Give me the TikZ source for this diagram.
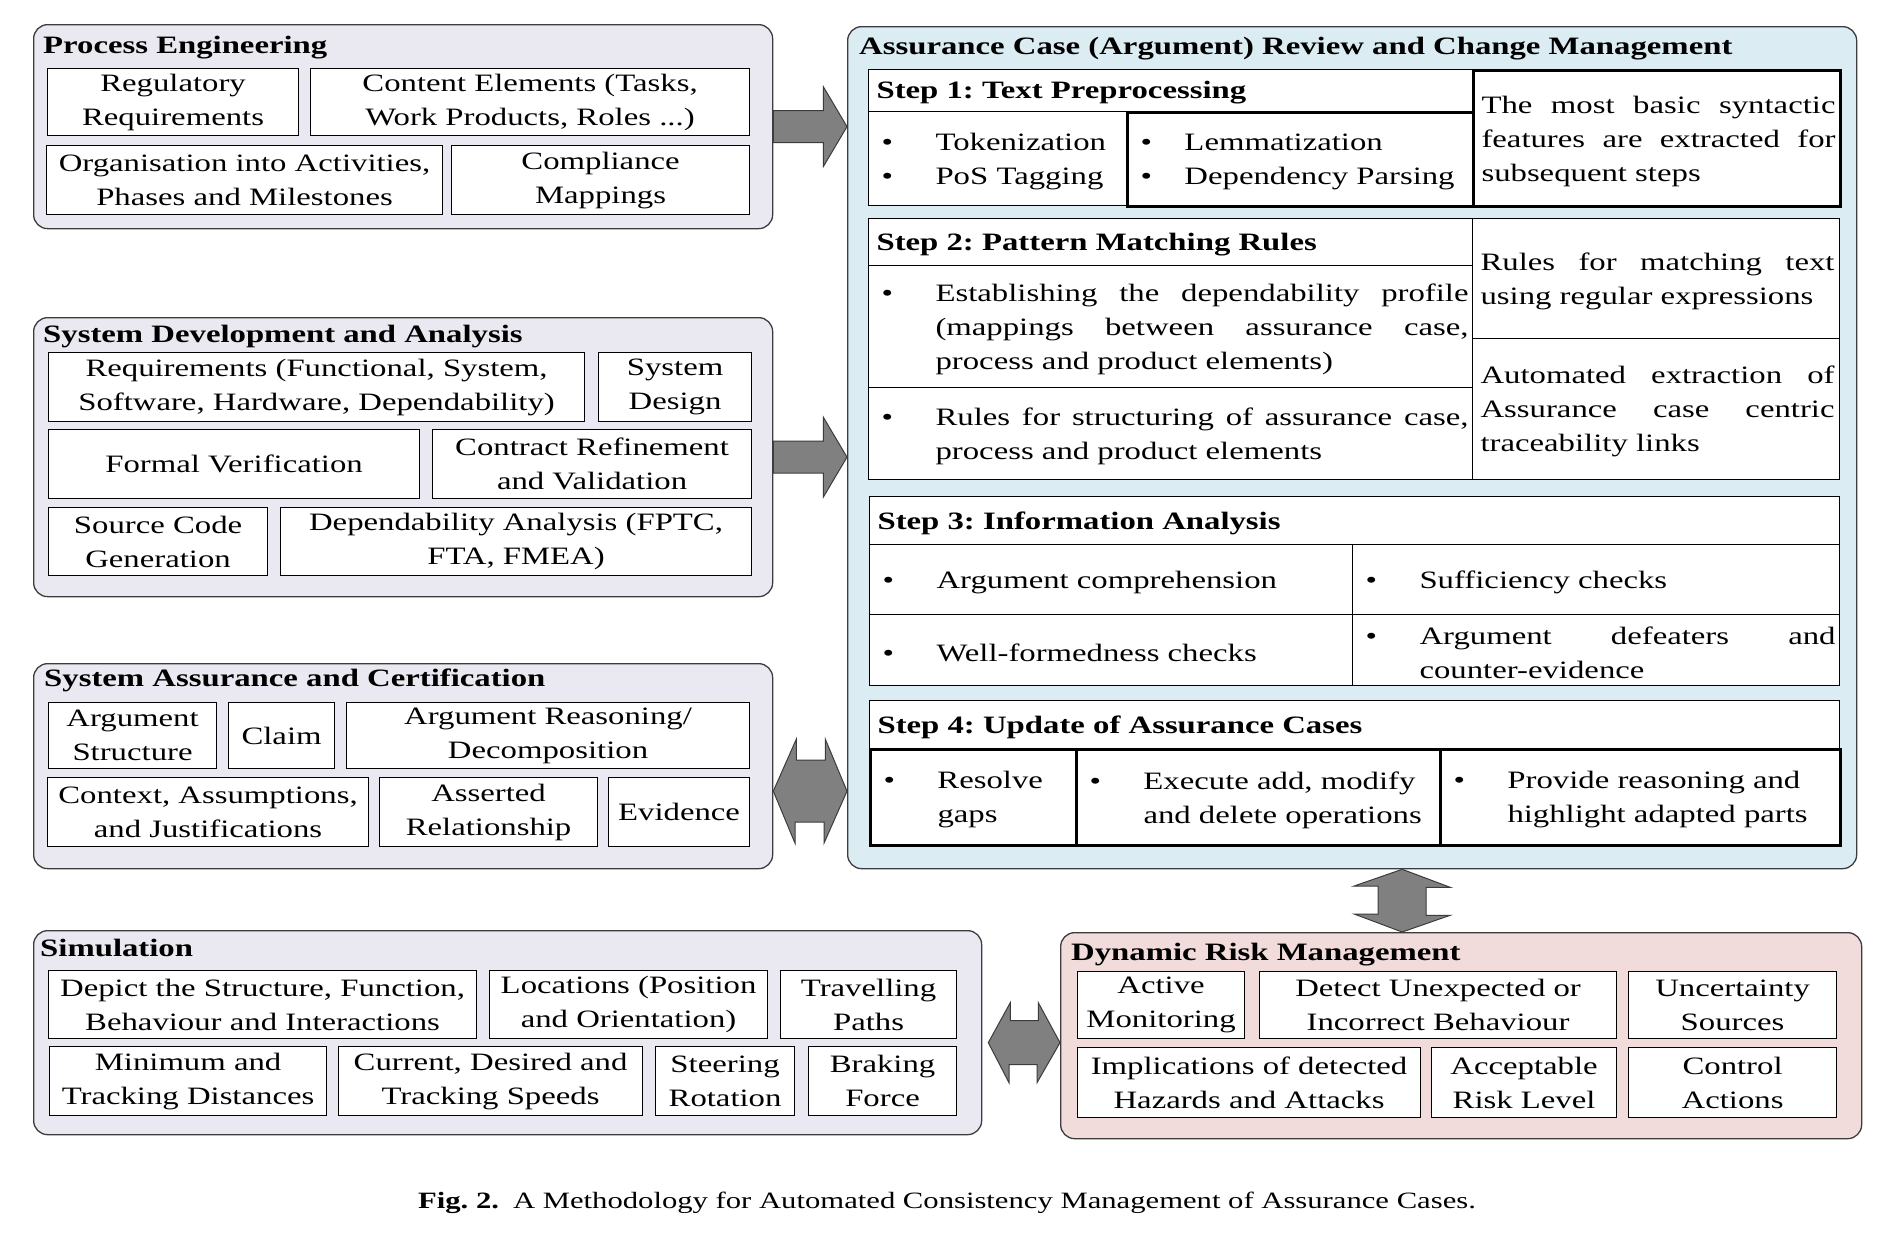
\documentclass[tikz,border=0pt]{standalone}
\usepackage{fontspec}
\setmainfont{Liberation Serif}[FakeStretch=1.31]
\usetikzlibrary{calc}
\definecolor{lav}{RGB}{234,232,240}
\definecolor{sky}{RGB}{219,236,242}
\definecolor{rose}{RGB}{242,219,219}
\definecolor{arrgray}{RGB}{128,128,128}
\definecolor{edge}{RGB}{60,60,60}
\newcommand{\bodyfont}{\fontsize{25}{34}\selectfont}
\newcommand{\bul}[2][54pt]{\leftskip=13pt\rightskip=4pt\hangindent=#1\hangafter=1%
  \noindent\hbox to #1{\textbullet\hfil}#2\par}
\newcommand{\rbul}[2][54pt]{\leftskip=13pt\rightskip=0pt plus 1fil\hangindent=#1\hangafter=1%
  \noindent\hbox to #1{\textbullet\hfil}#2\par}
\newcommand{\txt}[1]{\leftskip=8pt\rightskip=5pt\noindent#1\par}
\tolerance=10000
\hbadness=10000
\hyphenpenalty=10000
\exhyphenpenalty=10000
\frenchspacing
\tikzset{
  grp/.style={draw=edge,line width=1.3pt,rounded corners=14pt,anchor=north west,inner sep=0pt},
  ttl/.style={anchor=base west,inner sep=0pt,font=\bodyfont\bfseries},
  cell/.style 2 args={draw=black,fill=white,line width=1.1pt,anchor=north west,inner sep=0pt,
    minimum width=#1pt,minimum height=#2pt,align=center,font=\bodyfont},
  jcell/.style 2 args={draw=black,fill=white,line width=1.1pt,anchor=north west,inner sep=0pt,
    minimum width=#1pt,minimum height=#2pt,font=\bodyfont,
    execute at begin node={\begin{minipage}{#1pt}\vspace*{5pt}},execute at end node={\end{minipage}}},
  hcell/.style 2 args={jcell={#1}{#2},font=\bodyfont\bfseries},
  heavy/.style={line width=3pt},
  blk/.style={fill=arrgray,draw=edge,line width=1pt},
  capt/.style={inner sep=0pt,font=\fontsize{23.4}{28}\selectfont},
}
\begin{document}
\begin{tikzpicture}[x=1pt,y=-1pt]
\path[use as bounding box,fill=white] (0,0) rectangle (1898,1234);
% groups
\node[grp,fill=lav,minimum width=739,minimum height=204] (pe) at (33,24) {};
\node[grp,fill=lav,minimum width=739,minimum height=279] (sd) at (33,317) {};
\node[grp,fill=lav,minimum width=739,minimum height=205] (sa) at (33,663) {};
\node[grp,fill=lav,minimum width=948,minimum height=204] (sim) at (33,930) {};
\node[grp,fill=sky,minimum width=1009,minimum height=842] (ac) at (847,26) {};
\node[grp,fill=rose,minimum width=801,minimum height=206] (drm) at (1060,932) {};
\node[ttl] (pet) at (43,53) {Process Engineering};
\node[ttl] (sdt) at (43,342) {System Development and Analysis};
\node[ttl] (sat) at (44,686) {System Assurance and Certification};
\node[ttl] (smt) at (40,956) {Simulation};
\node[ttl] (act) at (859,54) {Assurance Case (Argument) Review and Change Management};
\node[ttl] (drt) at (1071,960) {Dynamic Risk Management};
% process engineering
\node[cell={251}{67}] (pe1) at (47,68) {Regulatory\\Requirements};
\node[cell={439}{67}] (pe2) at (310,68) {Content Elements (Tasks,\\Work Products, Roles ...)};
\node[cell={396}{69}] (pe3) at (46,145) {Organisation into Activities,\\Phases and Milestones};
\node[cell={298}{69}] (pe4) at (451,145) {Compliance\\Mappings};
% system development
\node[cell={536}{69}] (sd1) at (48,352) {Requirements (Functional, System,\\Software, Hardware, Dependability)};
\node[cell={153}{69}] (sd2) at (598,352) {System\\Design};
\node[cell={371}{69}] (sd3) at (48,429) {Formal Verification};
\node[cell={319}{69}] (sd4) at (432,429) {Contract Refinement\\and Validation};
\node[cell={219}{68}] (sd5) at (48,507) {Source Code\\Generation};
\node[cell={471}{68}] (sd6) at (280,507) {Dependability Analysis (FPTC,\\FTA, FMEA)};
% system assurance
\node[cell={168}{66}] (sa1) at (48,702) {Argument\\Structure};
\node[cell={106}{66}] (sa2) at (228,702) {Claim};
\node[cell={403}{66}] (sa3) at (346,702) {Argument Reasoning/\\Decomposition};
\node[cell={321}{69}] (sa4) at (47,777) {Context, Assumptions,\\and Justifications};
\node[cell={218}{69}] (sa5) at (379,777) {Asserted\\Relationship};
\node[cell={141}{69}] (sa6) at (608,777) {Evidence};
% simulation
\node[cell={428}{68}] (sm1) at (48,970) {Depict the Structure, Function,\\Behaviour and Interactions};
\node[cell={278}{68}] (sm2) at (489,970) {Locations (Position\\and Orientation)};
\node[cell={176}{68}] (sm3) at (780,970) {Travelling\\Paths};
\node[cell={277}{69}] (sm4) at (49,1046) {Minimum and\\Tracking Distances};
\node[cell={304}{69}] (sm5) at (338,1046) {Current, Desired and\\Tracking Speeds};
\node[cell={139}{69}] (sm6) at (655,1046) {Steering\\Rotation};
\node[cell={148}{69}] (sm7) at (808,1046) {Braking\\Force};
% dynamic risk management
\node[cell={167}{67}] (dr1) at (1077,971) {Active\\Monitoring};
\node[cell={357}{67}] (dr2) at (1259,971) {Detect Unexpected or\\Incorrect Behaviour};
\node[cell={208}{67}] (dr3) at (1628,971) {Uncertainty\\Sources};
\node[cell={343}{70}] (dr4) at (1077,1047) {Implications of detected\\Hazards and Attacks};
\node[cell={185}{70}] (dr5) at (1431,1047) {Acceptable\\Risk Level};
\node[cell={208}{70}] (dr6) at (1628,1047) {Control\\Actions};
% step 1
\node[hcell={604}{42}] (s1h) at (868,69) {\txt{Step 1: Text Preprocessing}};
\node[jcell={258}{94}] (s1a) at (868,111) {\bul{Tokenization}\bul{PoS Tagging}};
\node[jcell={346}{94},heavy] (s1b) at (1126,111) {\bul[44pt]{Lemmatization}\bul[44pt]{\mbox{Dependency Parsing}}};
\node[jcell={367}{136},heavy] (s1c) at (1472,69) {\txt{The most basic syntactic features are extracted for subsequent steps}};
% step 2
\node[hcell={604}{47}] (s2h) at (868,218) {\txt{Step 2: Pattern Matching Rules}};
\node[jcell={604}{122}] (s2a) at (868,265) {\bul{Establishing the dependability profile (mappings between assurance case, process and product elements)}};
\node[jcell={604}{92}] (s2b) at (868,387) {\bul{Rules for structuring of assurance case, process and product elements}};
\node[jcell={367}{120}] (s2c) at (1472,218) {\txt{Rules for matching text using regular expressions}};
\node[jcell={367}{141}] (s2d) at (1472,338) {\txt{Automated extraction of Assurance case centric traceability links}};
% step 3
\node[hcell={970}{48}] (s3h) at (869,496) {\txt{Step 3: Information Analysis}};
\node[jcell={483}{70}] (s3a) at (869,544) {\bul{Argument comprehension}};
\node[jcell={487}{70}] (s3b) at (1352,544) {\bul{Sufficiency checks}};
\node[jcell={483}{71}] (s3c) at (869,614) {\bul{Well-formedness checks}};
\node[jcell={487}{71}] (s3d) at (1352,614) {\bul{Argument defeaters and counter-evidence}};
% step 4
\node[hcell={970}{48}] (s4h) at (869,700) {\txt{Step 4: Update of Assurance Cases}};
\node[jcell={206}{96},heavy] (s4a) at (869,748) {\rbul{Resolve gaps}};
\node[jcell={364}{96},heavy] (s4b) at (1075,748) {\rbul{Execute add, modify and delete operations}};
\node[jcell={400}{96},heavy] (s4c) at (1439,748) {\rbul{Provide reasoning and highlight adapted parts}};
% block arrows
\draw[blk] ($(pe.east)+(0,-16)$) -- ++(50,0) -- ++(0,-24) -- (pe.east -| ac.west)
  -- ($(pe.east)+(50,40)$) -- ++(0,-24) -- ($(pe.east)+(0,16)$) -- cycle;
\draw[blk] ($(sd.east)+(0,-16)$) -- ++(50,0) -- ++(0,-24) -- (sd.east -| ac.west)
  -- ($(sd.east)+(50,40)$) -- ++(0,-24) -- ($(sd.east)+(0,16)$) -- cycle;
\coordinate (samid) at ($(sa.east)+(0,25)$);
\draw[blk] (samid) -- ++(23,-52) -- ++(0,21) -- ++(29,0) -- ++(0,-21) -- (samid -| ac.west)
  -- ++(-23,52) -- ++(0,-21) -- ++(-29,0) -- ++(0,21) -- cycle;
\coordinate (smmid) at ($(sim.east)+(6,10)$);
\draw[blk] (smmid) -- ++(22,-40) -- ++(0,18) -- ++(28,0) -- ++(0,-18) -- (smmid -| drm.west)
  -- ++(-23,40) -- ++(0,-18) -- ++(-28,0) -- ++(0,18) -- cycle;
\coordinate (actop) at ($(ac.south)+(50,0)$);
\draw[blk] (actop) -- ++(48,18) -- ++(-24,0) -- ++(0,28) -- ++(24,0) -- (actop |- drm.north)
  -- ++(-48,-18) -- ++(24,0) -- ++(0,-28) -- ++(-24,0) -- cycle;
\node[capt] (cap) at (947,1203) {\textbf{Fig. 2.}\hspace{0.6em}A Methodology for Automated Consistency Management of Assurance Cases.};
\end{tikzpicture}
\end{document}
